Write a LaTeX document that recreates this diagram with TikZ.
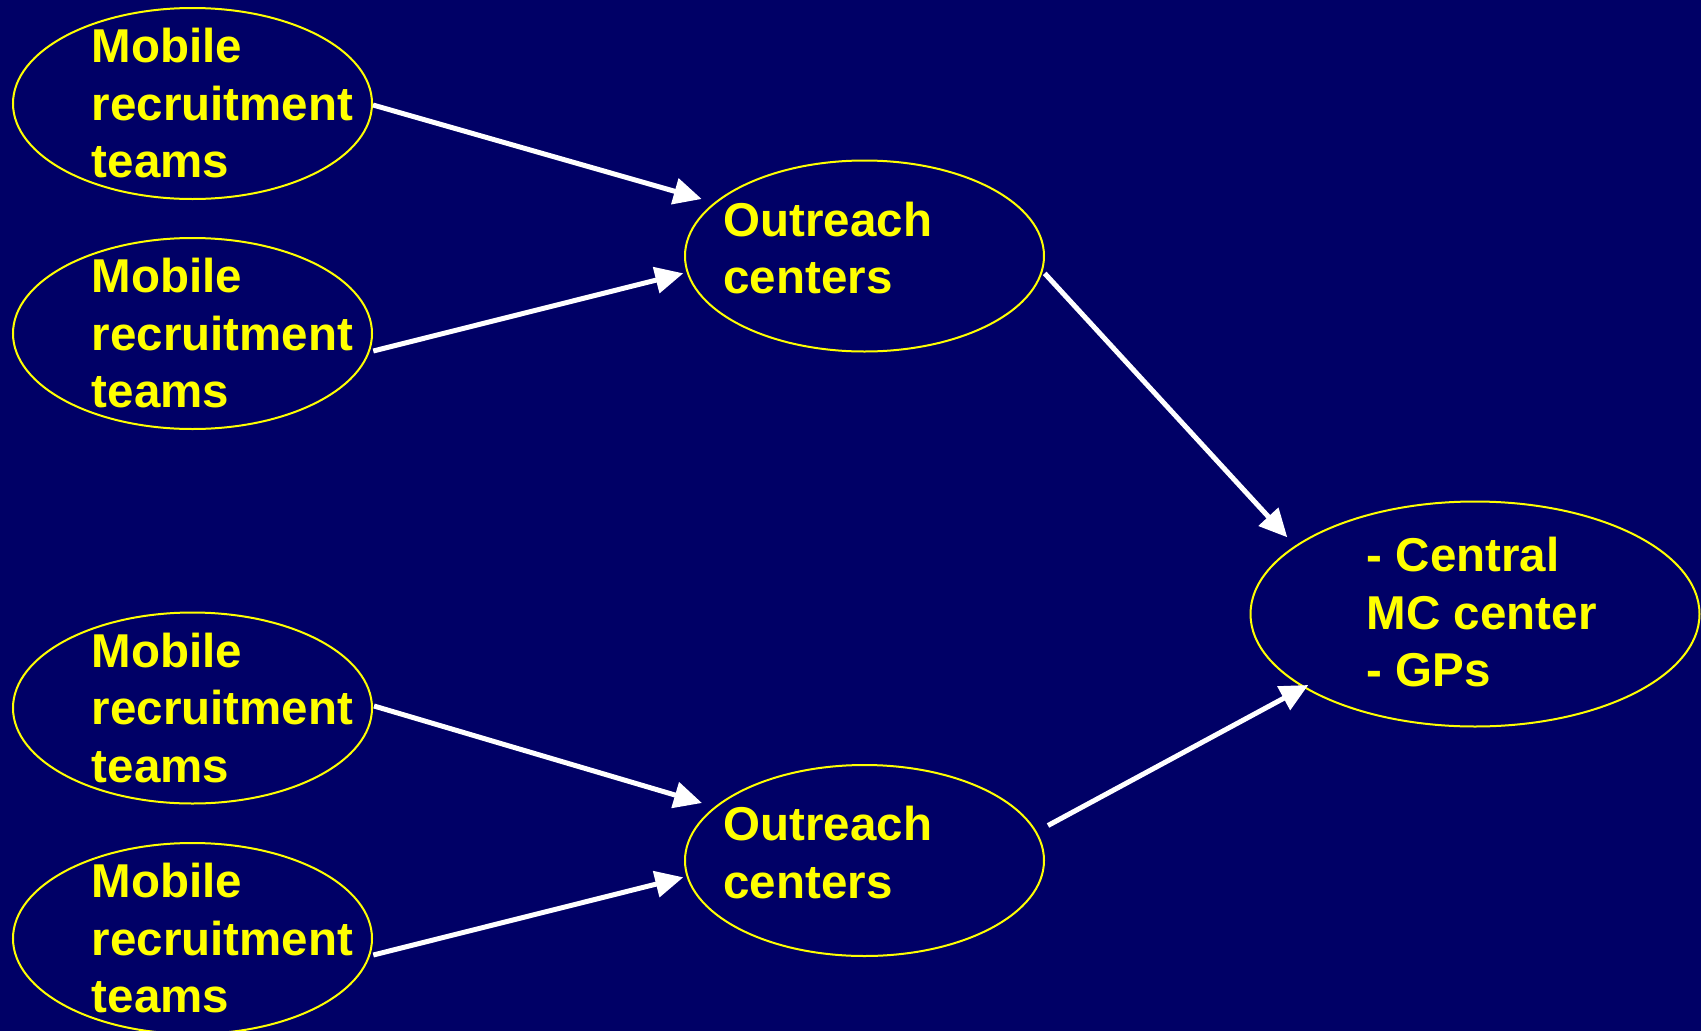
\documentclass[tikz,border=0pt]{standalone}
\usepackage{fontspec}
\setmainfont{Liberation Sans}
\usetikzlibrary{shapes.geometric,arrows.meta}
\definecolor{bgnavy}{RGB}{0,0,102}
\definecolor{ylw}{RGB}{255,255,0}
\newcommand{\threelines}[3]{\vtop{\baselineskip=57.5pt\hbox{#1}\hbox{#2}\hbox{#3}}}
\newcommand{\twolines}[2]{\vtop{\baselineskip=57.5pt\hbox{#1}\hbox{#2}}}
\begin{document}
\begin{tikzpicture}[x=1pt,y=-1pt,
  oval/.style={ellipse,draw=ylw,line width=2pt,inner sep=0pt,outer sep=0pt},
  small/.style={oval,minimum width=359pt,minimum height=191pt},
  big/.style={oval,minimum width=449pt,minimum height=225pt},
  lbl/.style={anchor=base west,inner sep=0pt,text=ylw,font=\fontsize{47.5}{57.5}\selectfont\bfseries},
  arr/.style={draw=white,line width=5pt,-{Triangle[length=28pt,width=26pt]}}]
\fill[bgnavy] (0,0) rectangle (1701,1031);
\useasboundingbox (0,0) rectangle (1701,1031);
\clip (0,0) rectangle (1701,1031);
% ellipses
\node[small] (m1) at (192.5,103.5) {};
\node[small] (m2) at (192.5,333.5) {};
\node[small] (m3) at (192.5,708) {};
\node[small] (m4) at (192.5,938.5) {};
\node[small] (o1) at (864.5,256) {};
\node[small] (o2) at (864.5,860.5) {};
\node[big] (c) at (1475,614) {};
% labels
\node[lbl] (t1) at ([shift={(-100.8,-40.8)}]m1.center) {\threelines{Mobile}{recruitment}{teams}};
\node[lbl] (t2) at ([shift={(-100.8,-40.8)}]m2.center) {\threelines{Mobile}{recruitment}{teams}};
\node[lbl] (t3) at ([shift={(-100.8,-40.8)}]m3.center) {\threelines{Mobile}{recruitment}{teams}};
\node[lbl] (t4) at ([shift={(-100.8,-40.8)}]m4.center) {\threelines{Mobile}{recruitment}{teams}};
\node[lbl] (t5) at ([shift={(-141.2,-20)}]o1.center) {\twolines{Outreach}{centers}};
\node[lbl] (t6) at ([shift={(-141.2,-20)}]o2.center) {\twolines{Outreach}{centers}};
\node[lbl] (t7) at ([shift={(-108.3,-42.3)}]c.center) {\threelines{- Central}{MC center}{- GPs}};
% arrows
\draw[arr] ([shift={(180.5,1.5)}]m1.center) -- ([shift={(-162.8,-57)}]o1.center);
\draw[arr] ([shift={(180.8,17.5)}]m2.center) -- ([shift={(-181.2,17.3)}]o1.center);
\draw[arr] ([shift={(181.5,-2)}]m3.center) -- ([shift={(-162.5,-57.5)}]o2.center);
\draw[arr] ([shift={(180.8,16.5)}]m4.center) -- ([shift={(-181.2,16.8)}]o2.center);
\draw[arr] ([shift={(180.2,17.4)}]o1.center) -- ([shift={(-187.7,-76.7)}]c.center);
\draw[arr] ([shift={(183.5,-35)}]o2.center) -- ([shift={(-166.7,71)}]c.center);
\end{tikzpicture}
\end{document}
